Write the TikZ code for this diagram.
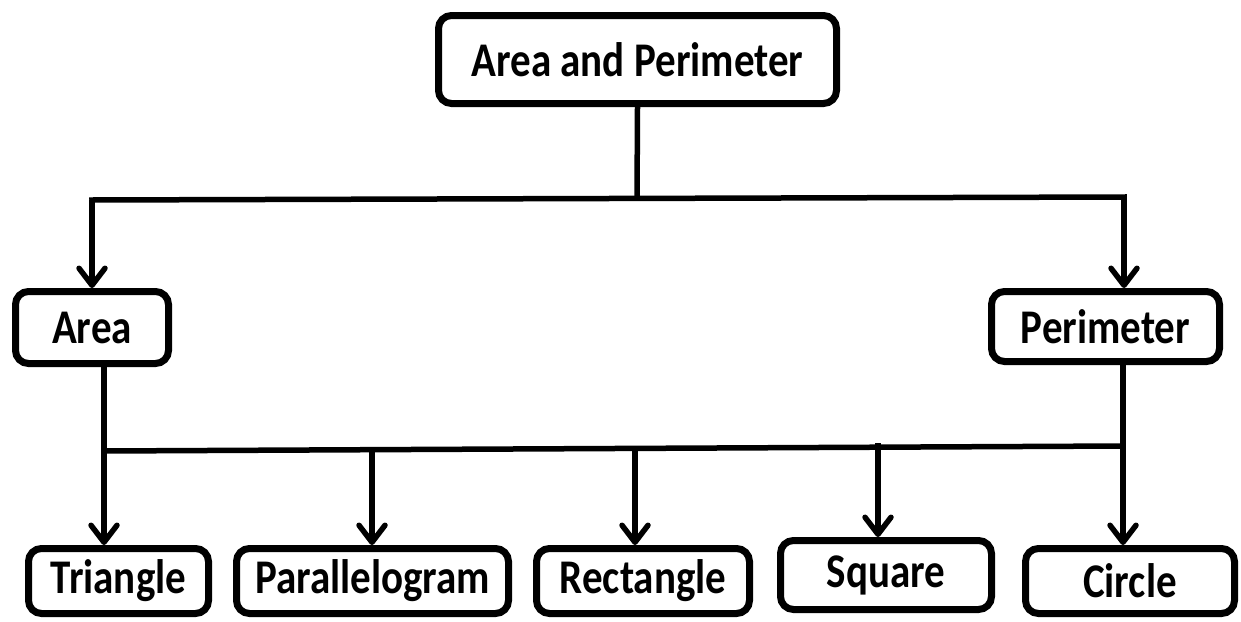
\documentclass[tikz,border=0pt]{standalone}
\usepackage{fontspec}
\usepackage{graphicx}
\setmainfont{Carlito}
\usetikzlibrary{arrows.meta}

\tikzset{
  box/.style={draw=black, line width=7pt, rounded corners=13pt, fill=white,
    inner sep=0pt, font=\fontsize{41}{48}\selectfont\bfseries},
  link/.style={draw=black, line width=5.5pt},
  arr/.style={link, -{Straight Barb[length=17pt, width=26pt, round]}},
}
\newcommand{\lbl}[1]{\scalebox{1}[1.18]{#1}}

\begin{document}
\begin{tikzpicture}[x=1pt, y=-1pt]
  \useasboundingbox (0,0) rectangle (1241,621);

  % boxes
  \node[box, minimum width=398pt, minimum height=88pt] (top) at (637.5,59.5) {\lbl{Area and Perimeter}};
  \node[box, minimum width=153pt, minimum height=72pt] (area) at (92,327.5) {\lbl{Area}};
  \node[box, minimum width=228pt, minimum height=70pt] (perim) at (1105.5,326.5) {\lbl{Perimeter}};

  \node[box, minimum width=180pt, minimum height=65pt] (tri) at (118.5,581) {\lbl{Triangle}};
  \node[box, minimum width=272pt, minimum height=65pt] (para) at (372.5,581) {\lbl{Parallelogram}};
  \node[box, minimum width=213pt, minimum height=65pt] (rect) at (643,581) {\lbl{Rectangle}};
  \node[box, minimum width=211pt, minimum height=69pt] (sq) at (886,575) {\lbl{Square}};
  \node[box, minimum width=209pt, minimum height=65pt] (circ) at (1130,581) {\lbl{Circle}};

  % junction points on the two horizontal bars
  \coordinate (jt) at (637,198.5);
  \coordinate (jl) at (92,200);
  \coordinate (jr) at (1124,197);
  \coordinate (bl) at (104,451);
  \coordinate (br) at (1123,446);
  \coordinate (pp) at (372,452);
  \coordinate (pr) at (635,450);
  \coordinate (ps) at (878,443);

  % upper level
  \draw[link] (top.south) -- (jt);
  \draw[link, line cap=rect] (jl) -- (jr);
  \draw[arr] (jl) -- (area.north);
  \draw[arr] (jr) -- (jr |- perim.north);

  % lower level
  \draw[link, line cap=rect] (bl) -- (br);
  \draw[arr] (area.south -| bl) -- (bl |- tri.north);
  \draw[arr] (perim.south -| br) -- (br |- circ.north);
  \draw[arr] (pp) -- (pp |- para.north);
  \draw[arr] (pr) -- (pr |- rect.north);
  \draw[arr] (ps) -- (ps |- sq.north);
\end{tikzpicture}
\end{document}
